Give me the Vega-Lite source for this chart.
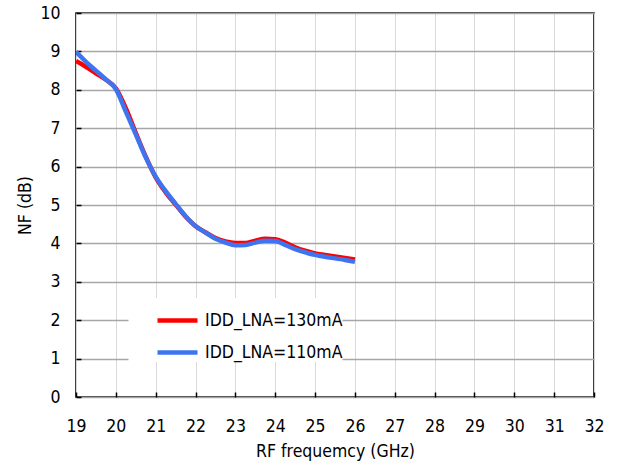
{
  "$schema": "https://vega.github.io/schema/vega-lite/v6.json",
  "autosize": "none",
  "width": 518,
  "height": 384,
  "padding": {"left": 76, "top": 13, "right": 24, "bottom": 68},
  "background": "white",
  "config": {
    "font": "DejaVu Sans Condensed",
    "view": {"stroke": "black", "strokeWidth": 1.5},
    "axis": {"labelFont": "DejaVu Sans Condensed", "titleFont": "DejaVu Sans Condensed", "labelColor": "black", "titleColor": "black", "titleFontWeight": "normal"}
  },
  "data": {
    "values": [
      {"f": 19.0, "nf": 8.75, "s": "IDD_LNA=130mA"},
      {"f": 19.25, "nf": 8.6, "s": "IDD_LNA=130mA"},
      {"f": 19.5, "nf": 8.43, "s": "IDD_LNA=130mA"},
      {"f": 19.75, "nf": 8.26, "s": "IDD_LNA=130mA"},
      {"f": 20.0, "nf": 8.04, "s": "IDD_LNA=130mA"},
      {"f": 20.25, "nf": 7.52, "s": "IDD_LNA=130mA"},
      {"f": 20.5, "nf": 6.88, "s": "IDD_LNA=130mA"},
      {"f": 20.75, "nf": 6.26, "s": "IDD_LNA=130mA"},
      {"f": 21.0, "nf": 5.72, "s": "IDD_LNA=130mA"},
      {"f": 21.25, "nf": 5.33, "s": "IDD_LNA=130mA"},
      {"f": 21.5, "nf": 5.01, "s": "IDD_LNA=130mA"},
      {"f": 21.75, "nf": 4.7, "s": "IDD_LNA=130mA"},
      {"f": 22.0, "nf": 4.45, "s": "IDD_LNA=130mA"},
      {"f": 22.25, "nf": 4.29, "s": "IDD_LNA=130mA"},
      {"f": 22.5, "nf": 4.14, "s": "IDD_LNA=130mA"},
      {"f": 22.75, "nf": 4.05, "s": "IDD_LNA=130mA"},
      {"f": 23.0, "nf": 4.01, "s": "IDD_LNA=130mA"},
      {"f": 23.25, "nf": 4.01, "s": "IDD_LNA=130mA"},
      {"f": 23.5, "nf": 4.07, "s": "IDD_LNA=130mA"},
      {"f": 23.75, "nf": 4.12, "s": "IDD_LNA=130mA"},
      {"f": 24.0, "nf": 4.11, "s": "IDD_LNA=130mA"},
      {"f": 24.25, "nf": 4.02, "s": "IDD_LNA=130mA"},
      {"f": 24.5, "nf": 3.9, "s": "IDD_LNA=130mA"},
      {"f": 24.75, "nf": 3.81, "s": "IDD_LNA=130mA"},
      {"f": 25.0, "nf": 3.74, "s": "IDD_LNA=130mA"},
      {"f": 25.25, "nf": 3.7, "s": "IDD_LNA=130mA"},
      {"f": 25.5, "nf": 3.66, "s": "IDD_LNA=130mA"},
      {"f": 25.75, "nf": 3.62, "s": "IDD_LNA=130mA"},
      {"f": 26.0, "nf": 3.58, "s": "IDD_LNA=130mA"},
      {"f": 19.0, "nf": 8.99, "s": "IDD_LNA=110mA"},
      {"f": 19.25, "nf": 8.73, "s": "IDD_LNA=110mA"},
      {"f": 19.5, "nf": 8.5, "s": "IDD_LNA=110mA"},
      {"f": 19.75, "nf": 8.27, "s": "IDD_LNA=110mA"},
      {"f": 20.0, "nf": 8.02, "s": "IDD_LNA=110mA"},
      {"f": 20.25, "nf": 7.43, "s": "IDD_LNA=110mA"},
      {"f": 20.5, "nf": 6.84, "s": "IDD_LNA=110mA"},
      {"f": 20.75, "nf": 6.24, "s": "IDD_LNA=110mA"},
      {"f": 21.0, "nf": 5.74, "s": "IDD_LNA=110mA"},
      {"f": 21.25, "nf": 5.36, "s": "IDD_LNA=110mA"},
      {"f": 21.5, "nf": 5.03, "s": "IDD_LNA=110mA"},
      {"f": 21.75, "nf": 4.71, "s": "IDD_LNA=110mA"},
      {"f": 22.0, "nf": 4.45, "s": "IDD_LNA=110mA"},
      {"f": 22.25, "nf": 4.28, "s": "IDD_LNA=110mA"},
      {"f": 22.5, "nf": 4.12, "s": "IDD_LNA=110mA"},
      {"f": 22.75, "nf": 4.02, "s": "IDD_LNA=110mA"},
      {"f": 23.0, "nf": 3.95, "s": "IDD_LNA=110mA"},
      {"f": 23.25, "nf": 3.96, "s": "IDD_LNA=110mA"},
      {"f": 23.5, "nf": 4.02, "s": "IDD_LNA=110mA"},
      {"f": 23.75, "nf": 4.07, "s": "IDD_LNA=110mA"},
      {"f": 24.0, "nf": 4.06, "s": "IDD_LNA=110mA"},
      {"f": 24.25, "nf": 3.96, "s": "IDD_LNA=110mA"},
      {"f": 24.5, "nf": 3.85, "s": "IDD_LNA=110mA"},
      {"f": 24.75, "nf": 3.77, "s": "IDD_LNA=110mA"},
      {"f": 25.0, "nf": 3.7, "s": "IDD_LNA=110mA"},
      {"f": 25.25, "nf": 3.65, "s": "IDD_LNA=110mA"},
      {"f": 25.5, "nf": 3.61, "s": "IDD_LNA=110mA"},
      {"f": 25.75, "nf": 3.57, "s": "IDD_LNA=110mA"},
      {"f": 26.0, "nf": 3.52, "s": "IDD_LNA=110mA"}
    ]
  },
  "mark": {"type": "line", "interpolate": "monotone", "strokeWidth": 4.5, "clip": true},
  "encoding": {
    "x": {
      "field": "f", "type": "quantitative",
      "scale": {"domain": [19, 32], "nice": false, "zero": false},
      "axis": {
        "title": "RF frequemcy (GHz)", "values": [19,20,21,22,23,24,25,26,27,28,29,30,31,32],
        "domain": false, "grid": true, "gridColor": "#d9d9d9", "gridWidth": 1,
        "ticks": true, "tickSize": 5, "offset": -5, "tickColor": "black", "tickWidth": 1.5,
        "labelPadding": 20, "labelFontSize": 17.5, "labelFlush": false,
        "titleFontSize": 17.5, "titlePadding": 8
      }
    },
    "y": {
      "field": "nf", "type": "quantitative",
      "scale": {"domain": [0, 10], "nice": false},
      "axis": {
        "title": "NF (dB)", "values": [0,1,2,3,4,5,6,7,8,9,10],
        "domain": false, "grid": true, "gridColor": "#a6a6a6", "gridWidth": 1.5,
        "ticks": true, "tickSize": 5, "offset": -5, "tickColor": "black", "tickWidth": 1.5,
        "labelPadding": 16, "labelFontSize": 17.5, "labelFlush": false,
        "titleFontSize": 17.5, "titlePadding": 5
      }
    },
    "color": {
      "field": "s", "type": "nominal",
      "scale": {"domain": ["IDD_LNA=130mA", "IDD_LNA=110mA"], "range": ["#ff0000", "#3f74f0"]},
      "legend": {
        "title": null, "orient": "none", "legendX": 52.5, "legendY": 285,
        "fillColor": "white", "strokeColor": null,
        "padding": 0, "offset": 0,
        "symbolType": "stroke", "symbolSize": 1600, "symbolStrokeWidth": 4.5, "symbolOffset": 26.5,
        "labelFontSize": 17.5, "labelColor": "black", "labelOffset": 5, "rowPadding": -14,
        "labelExpr": "datum.label + '    '"
      }
    },
    "order": {"field": "s", "sort": "descending"}
  }
}
